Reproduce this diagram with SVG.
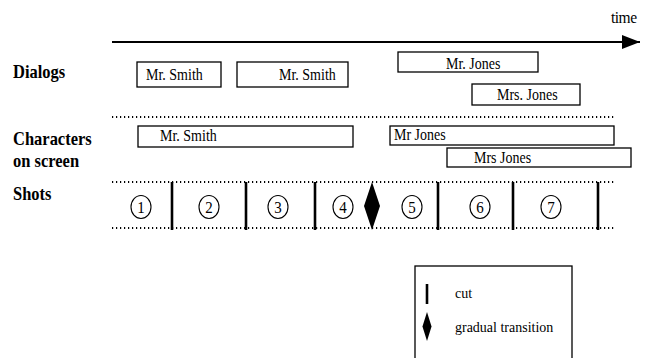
<svg xmlns="http://www.w3.org/2000/svg" width="645" height="358" viewBox="0 0 645 358" font-family="'Liberation Serif', 'Times New Roman', Times, serif">
<defs>
<style>
.t{font-family:'Liberation Serif',serif;font-size:14px}
.lb{font-family:'Liberation Serif',serif;font-size:16.5px;font-weight:bold}
.n{font-family:'Liberation Serif',serif;font-size:15px;text-anchor:middle}
.lg{font-family:'Liberation Serif',serif;font-size:14px}
.box{fill:#fff;stroke:#000;stroke-width:1.3}
.dot{stroke:#000;stroke-width:2;stroke-dasharray:1.2 2.8;fill:none}
.cut{stroke:#000;stroke-width:2.6}
.circ{fill:#fff;stroke:#000;stroke-width:1.1}
</style>
<marker id="ah" markerWidth="20" markerHeight="16" refX="18" refY="7" orient="auto" markerUnits="userSpaceOnUse">
<path d="M0,0 L18,7 L0,14 Z" fill="#000"/>
</marker>
</defs>
<rect width="645" height="358" fill="#fff"/>
<g id="axis">
<line x1="112" y1="42" x2="640" y2="42" stroke="#000" stroke-width="1.8" marker-end="url(#ah)"/>
<text transform="translate(611 23) scale(1 1.12)" font-family="'Liberation Serif', serif" font-size="15.5" letter-spacing="-0.5">time</text>
</g>
<g id="labels">
<text class="lb" transform="translate(13 78) scale(1 1.1)">Dialogs</text>
<text class="lb" transform="translate(13 145) scale(1 1.1)">Characters</text>
<text class="lb" transform="translate(13 167) scale(1 1.1)">on screen</text>
<text class="lb" transform="translate(13 200) scale(1 1.1)">Shots</text>
</g>
<g id="separators">
<line class="dot" x1="112" y1="117" x2="616" y2="117"/>
<line class="dot" x1="112" y1="182" x2="616" y2="182"/>
<line class="dot" x1="112" y1="228" x2="616" y2="228"/>
</g>
<g id="dialog-smith-1"><rect class="box" x="137" y="62" width="84" height="25"/><text class="t" transform="translate(146 80) scale(1 1.12)">Mr. Smith</text></g>
<g id="dialog-smith-2"><rect class="box" x="237" y="62" width="111" height="25"/><text class="t" transform="translate(279 80) scale(1 1.12)">Mr. Smith</text></g>
<g id="dialog-jones"><rect class="box" x="398" y="52" width="140" height="20"/><text class="t" transform="translate(446 69) scale(1 1.12)">Mr. Jones</text></g>
<g id="dialog-mrs-jones"><rect class="box" x="472" y="84" width="108" height="21"/><text class="t" transform="translate(497 100) scale(1 1.12)">Mrs. Jones</text></g>
<g id="char-smith"><rect class="box" x="138" y="126" width="215" height="21"/><text class="t" transform="translate(160 141) scale(1 1.12)">Mr. Smith</text></g>
<g id="char-jones"><rect class="box" x="390" y="126" width="224" height="19"/><text class="t" transform="translate(394 140) scale(1 1.12)">Mr Jones</text></g>
<g id="char-mrs-jones"><rect class="box" x="447" y="148" width="184" height="19"/><text class="t" transform="translate(474 163) scale(1 1.12)">Mrs Jones</text></g>
<g id="transitions">
<line class="cut" x1="172" y1="182" x2="172" y2="230"/>
<line class="cut" x1="246" y1="182" x2="246" y2="230"/>
<line class="cut" x1="315" y1="182" x2="315" y2="230"/>
<line class="cut" x1="438" y1="182" x2="438" y2="230"/>
<line class="cut" x1="513" y1="182" x2="513" y2="230"/>
<line class="cut" x1="598" y1="182" x2="598" y2="230"/>
<path d="M372,182 L380,206 L372,230 L364,206 Z" fill="#000"/>
</g>
<g id="shot-1"><ellipse class="circ" cx="141" cy="207" rx="10" ry="11.5"/><text class="n" transform="translate(141 212.5) scale(1 1.1)">1</text></g>
<g id="shot-2"><ellipse class="circ" cx="209" cy="207" rx="10" ry="11.5"/><text class="n" transform="translate(209 212.5) scale(1 1.1)">2</text></g>
<g id="shot-3"><ellipse class="circ" cx="278" cy="207" rx="10" ry="11.5"/><text class="n" transform="translate(278 212.5) scale(1 1.1)">3</text></g>
<g id="shot-4"><ellipse class="circ" cx="343" cy="207" rx="10" ry="11.5"/><text class="n" transform="translate(343 212.5) scale(1 1.1)">4</text></g>
<g id="shot-5"><ellipse class="circ" cx="412" cy="207" rx="10" ry="11.5"/><text class="n" transform="translate(412 212.5) scale(1 1.1)">5</text></g>
<g id="shot-6"><ellipse class="circ" cx="480" cy="207" rx="10" ry="11.5"/><text class="n" transform="translate(480 212.5) scale(1 1.1)">6</text></g>
<g id="shot-7"><ellipse class="circ" cx="551" cy="207" rx="10" ry="11.5"/><text class="n" transform="translate(551 212.5) scale(1 1.1)">7</text></g>
<g id="legend">
<rect class="box" x="415" y="266" width="157" height="100"/>
<line class="cut" x1="427" y1="284" x2="427" y2="304"/>
<text class="lg" transform="translate(455 298) scale(1 1.1)">cut</text>
<path d="M427,312 L431.5,326.5 L427,341 L422.5,326.5 Z" fill="#000"/>
<text class="lg" transform="translate(455 332) scale(1 1.1)">gradual transition</text>
</g>
</svg>
